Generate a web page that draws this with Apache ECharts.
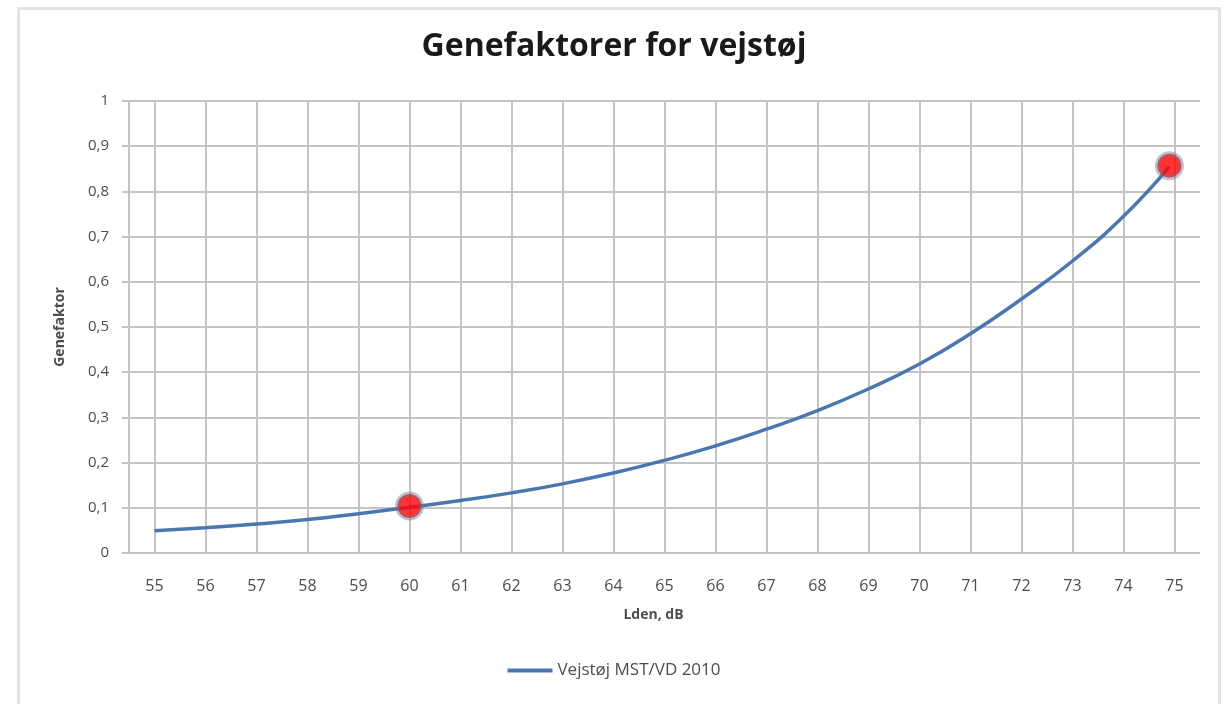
<!DOCTYPE html>
<html>
<head>
<meta charset="utf-8">
<script src="https://cdn.jsdelivr.net/npm/echarts@6/dist/echarts.min.js"></script>
<style>
  html, body { margin: 0; padding: 0; background: #fff; }
  #chart { width: 1228px; height: 704px; }
  #frame { position: absolute; left: 17px; top: 7px; width: 1204px; height: 720px;
           border: 3px solid #e3e3e3; box-sizing: border-box; pointer-events: none; }
</style>
</head>
<body>
<div id="chart"></div>
<div id="frame"></div>
<script>
const titleText = 'Genefaktorer for vejstøj';
const xName = 'Lden, dB';
const yName = 'Genefaktor';
const seriesName = 'Vejstøj MST/VD 2010';
const xTicks = [55, 56, 57, 58, 59, 60, 61, 62, 63, 64, 65, 66, 67, 68, 69, 70, 71, 72, 73, 74, 75];
const lden = [55, 56, 57, 58, 59, 60, 61, 62, 63, 64, 65, 66, 67, 68, 69, 70, 71, 72, 73, 74, 74.9];
const genefaktor = [0.049, 0.056, 0.064, 0.074, 0.087, 0.101, 0.116, 0.133, 0.153, 0.177, 0.205, 0.237, 0.274, 0.315, 0.363, 0.418, 0.485, 0.562, 0.646, 0.745, 0.855];
const markerX = [60, 74.9];
const markerY = [0.104, 0.857];

const chart = echarts.init(document.getElementById('chart'));
const gridColor = '#c4c4c4';
const txt = '#4d4d4d';
const font = 'Open Sans';

chart.setOption({
  animation: false,
  backgroundColor: '#fff',
  title: {
    text: titleText, left: 'center', top: 26,
    textStyle: { fontFamily: font, fontSize: 32, fontWeight: 'bold', color: '#1a1a1a' }
  },
  legend: {
    data: [seriesName], bottom: 20, left: 'center',
    icon: 'rect', itemWidth: 45, itemHeight: 4, itemGap: 4,
    textStyle: { fontFamily: font, fontSize: 17, color: txt }
  },
  grid: { left: 129, right: 28, top: 101, bottom: 151 },
  xAxis: {
    type: 'value', min: 54.5, max: 75.5,
    name: xName, nameLocation: 'middle', nameGap: 55,
    nameTextStyle: { fontFamily: font, fontSize: 14, fontWeight: 'bold', color: txt, padding: [0, 22, 0, 0] },
    axisLine: { show: false },
    axisTick: { show: false, customValues: xTicks },
    axisLabel: { customValues: xTicks, fontFamily: font, fontSize: 16, color: txt, margin: 25 },
    splitLine: { show: false }
  },
  yAxis: {
    type: 'value', min: 0, max: 1, interval: 0.1,
    name: yName, nameLocation: 'middle', nameGap: 62,
    nameTextStyle: { fontFamily: font, fontSize: 14, fontWeight: 'bold', color: txt },
    axisLine: { show: true, lineStyle: { color: gridColor, width: 2 } },
    axisTick: { show: true, length: 7, lineStyle: { color: gridColor, width: 2 } },
    axisLabel: {
      fontFamily: font, fontSize: 15, color: txt, margin: 20,
      formatter: v => String(Math.round(v * 10) / 10).replace('.', ',')
    },
    splitLine: { show: true, lineStyle: { color: gridColor, width: 2 } }
  },
  series: [
    {
      name: seriesName, type: 'line', smooth: true, showSymbol: false,
      data: lden.map((x, i) => [x, genefaktor[i]]),
      lineStyle: { color: '#4a77ad', width: 3.5 },
      itemStyle: { color: '#4a77ad' },
      z: 3,
      markLine: {
        silent: true, symbol: 'none', label: { show: false }, z: 1,
        lineStyle: { color: gridColor, width: 2, type: 'solid' },
        emphasis: { disabled: true },
        data: xTicks.map(v => ({ xAxis: v }))
      }
    },
    {
      name: 'markers', type: 'scatter', symbol: 'circle', symbolSize: 24,
      data: markerX.map((x, i) => [x, markerY[i]]),
      itemStyle: { color: '#ff0000', borderColor: 'rgba(110,115,140,0.55)', borderWidth: 5 },
      z: 4
    }
  ]
});
</script>
</body>
</html>
